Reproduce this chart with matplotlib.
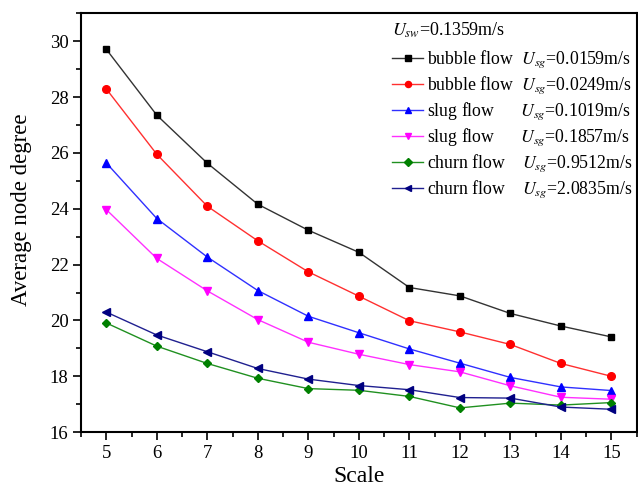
import numpy as np
import matplotlib
matplotlib.use("Agg")
import matplotlib.pyplot as plt
from matplotlib.ticker import MultipleLocator

plt.rcParams['font.family'] = ['Liberation Serif', 'DejaVu Serif']
plt.rcParams['mathtext.fontset'] = 'stix'

# scale values
scale = np.arange(5, 16)

# average node degree for each flow condition
bubble1 = [29.71, 27.35, 25.63, 24.16, 23.23, 22.44, 21.18, 20.88, 20.25, 19.80, 19.41]
bubble2 = [28.29, 25.95, 24.09, 22.85, 21.74, 20.87, 19.99, 19.59, 19.14, 18.46, 18.00]
slug1 = [25.64, 23.65, 22.27, 21.07, 20.15, 19.56, 18.98, 18.47, 17.96, 17.62, 17.49]
slug2 = [23.97, 22.22, 21.06, 20.03, 19.22, 18.79, 18.42, 18.16, 17.66, 17.25, 17.18]
churn1 = [19.91, 19.08, 18.46, 17.93, 17.56, 17.50, 17.28, 16.87, 17.04, 16.97, 17.06]
churn2 = [20.30, 19.48, 18.88, 18.28, 17.90, 17.67, 17.52, 17.24, 17.22, 16.90, 16.82]

labels = [r"bubble flow  $U_{sg}$=0.0159m/s",
          r"bubble flow  $U_{sg}$=0.0249m/s",
          r"slug flow      $U_{sg}$=0.1019m/s",
          r"slug flow      $U_{sg}$=0.1857m/s",
          r"churn flow    $U_{sg}$=0.9512m/s",
          r"churn flow    $U_{sg}$=2.0835m/s"]
title = r"$U_{sw}$=0.1359m/s"

fig = plt.figure(figsize=(6.38, 4.9), dpi=100)
ax = fig.add_axes([0.127, 0.118, 0.871, 0.855])

ax.plot(scale, bubble1, '-', color='#333333', lw=1, marker='s', mfc='black', mec='black', ms=5, label=labels[0])
ax.plot(scale, bubble2, '-', color='#ff3030', lw=1, marker='o', mfc='red', mec='red', ms=5.5, label=labels[1])
ax.plot(scale, slug1, '-', color='#3030ff', lw=1, marker='^', mfc='blue', mec='blue', ms=6, label=labels[2])
ax.plot(scale, slug2, '-', color='#ff30ff', lw=1, marker='v', mfc='magenta', mec='magenta', ms=6, label=labels[3])
ax.plot(scale, churn1, '-', color='#209020', lw=1, marker='D', mfc='green', mec='green', ms=4.5, label=labels[4])
ax.plot(scale, churn2, '-', color='#202090', lw=1, marker='<', mfc='navy', mec='navy', ms=6, label=labels[5])

ax.set_xlim(4.5, 15.5)
ax.set_ylim(16, 31)
ax.xaxis.set_major_locator(MultipleLocator(1))
ax.xaxis.set_minor_locator(MultipleLocator(0.5))
ax.yaxis.set_major_locator(MultipleLocator(2))
ax.yaxis.set_minor_locator(MultipleLocator(1))
ax.tick_params(which='major', direction='out', length=6, width=1.2, labelsize=13.5, pad=3)
ax.tick_params(which='minor', direction='out', length=3.5, width=1.2)
for s in ax.spines.values():
    s.set_linewidth(1.5)

ax.set_xlabel('Scale', fontsize=17, labelpad=3)
ax.set_ylabel('Average node degree', fontsize=16.5)
ax.yaxis.set_label_coords(-0.088, 0.53)

ax.text(0.559, 0.959, title, transform=ax.transAxes, fontsize=13, va='center', ha='left')
leg = ax.legend(loc='upper left', bbox_to_anchor=(0.542, 0.939), frameon=False,
                fontsize=12.8, handlelength=1.75, handletextpad=0.2,
                labelspacing=0.25, borderaxespad=0.15, markerscale=0.8)

fig.savefig('out.png', dpi=100)
